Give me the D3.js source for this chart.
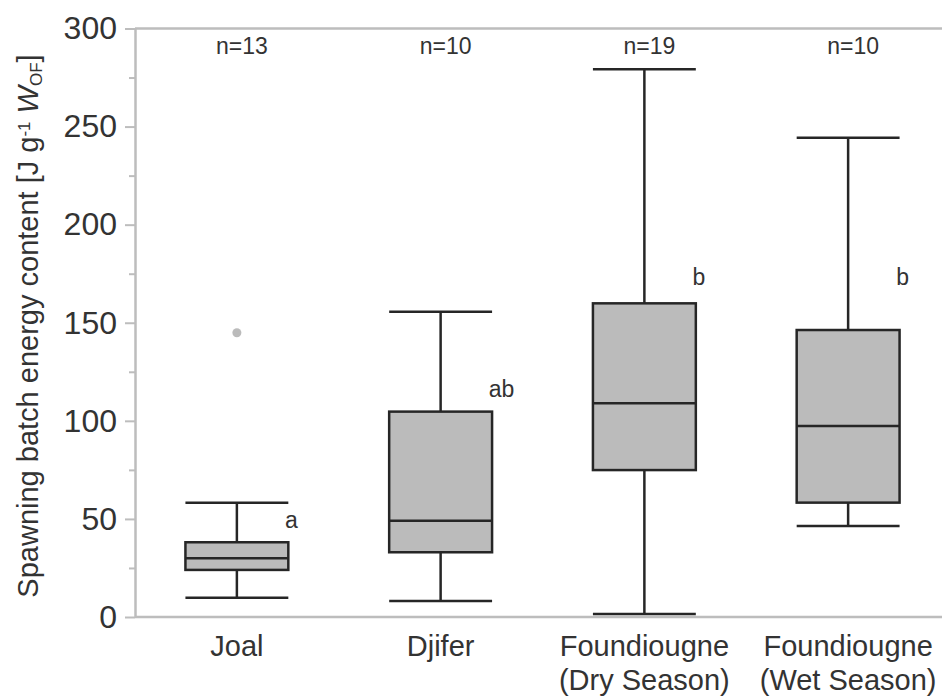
<!DOCTYPE html>
<html>
<head>
<meta charset="utf-8">
<script src="https://cdn.jsdelivr.net/npm/d3@7"></script>
<style>
    body { margin: 0; background: #fff; }
    text { font-family: "Liberation Sans", Arial, Helvetica, sans-serif; fill: #333; }
</style>
</head>
<body>
<div id="box_chart"></div>
<script>

let sites = ["Joal", "Djifer", "Foundiougne (Dry Season)", "Foundiougne (Wet Season)"];
let site_lines = [["Joal"], ["Djifer"], ["Foundiougne", "(Dry Season)"], ["Foundiougne", "(Wet Season)"]];
let n_counts = [13, 10, 19, 10];

// whisker low, q1, median, q3, whisker high
let whisker_lo = [9.8, 8.2, 1.5, 46.4];
let q1_vals = [24.0, 33.0, 74.9, 58.3];
let median_vals = [29.9, 49.1, 108.9, 97.4];
let q3_vals = [38.1, 104.7, 159.9, 146.3];
let whisker_hi = [58.3, 155.6, 279.2, 244.3];

let outliers = [{site: "Joal", value: 144.9}];

let group_letters = ["a", "ab", "b", "b"];
let letter_values = [45.4, 112.3, 169, 169];

let y_ticks = [0, 50, 100, 150, 200, 250, 300];
let y_minor_ticks = [25, 75, 125, 175, 225, 275];

let chart_width = 942;
let chart_height = 700;

let margin_top = 28.5;
let margin_left = 135;
let margin_bottom = 83;

let axis_color = "#bdbdbd";
let box_fill = "#bbbbbb";
let box_stroke = "#262626";

let svg = d3.select("#box_chart")
            .append("svg")
            .attr("width", chart_width)
            .attr("height", chart_height);

let xScale = d3.scaleBand()
                .domain(sites)
                .range([margin_left, 950])
                .padding(0);

let yScale = d3.scaleLinear()
                .domain([0, 300])
                .range([chart_height - margin_bottom, margin_top]);

let box_w = xScale.bandwidth() * 0.505;

let data = sites.map(function(s, i) {
    return {
        site: s,
        lines: site_lines[i],
        n: n_counts[i],
        lo: whisker_lo[i],
        q1: q1_vals[i],
        med: median_vals[i],
        q3: q3_vals[i],
        hi: whisker_hi[i],
        letter: group_letters[i],
        letter_val: letter_values[i]
    };
});

function cx(d) { return xScale(d.site) + xScale.bandwidth() / 2; }

// y axis with major + minor ticks
let y_axis = svg.append("g")
    .attr("class", "y axis")
    .attr("transform", "translate(" + margin_left + ",0)")
    .call(d3.axisLeft(yScale).tickValues(y_ticks).tickSize(10).tickPadding(8).tickSizeOuter(0));

svg.append("g")
    .attr("transform", "translate(" + margin_left + ",0)")
    .call(d3.axisLeft(yScale).tickValues(y_minor_ticks).tickSize(6).tickFormat("").tickSizeOuter(0))
    .select(".domain").remove();

svg.selectAll(".tick line").attr("stroke", axis_color).attr("stroke-width", 2);
y_axis.select(".domain").attr("stroke", axis_color).attr("stroke-width", 2.5);
y_axis.selectAll(".tick text")
    .style("font-size", "32px")
    .attr("fill", "#333");

// bottom + top frame lines
svg.append("line")
    .attr("x1", margin_left).attr("x2", chart_width)
    .attr("y1", yScale(0)).attr("y2", yScale(0))
    .attr("stroke", axis_color).attr("stroke-width", 2.5);
svg.append("line")
    .attr("x1", margin_left).attr("x2", chart_width)
    .attr("y1", yScale(300)).attr("y2", yScale(300))
    .attr("stroke", axis_color).attr("stroke-width", 2.5);

// y label
let y_label = svg.append("text")
    .attr("transform", "translate(38," + 326 + ") rotate(-90)")
    .attr("text-anchor", "middle")
    .style("font-size", "29px");
y_label.append("tspan").text("Spawning batch energy content [J g");
y_label.append("tspan").attr("baseline-shift", "45%").style("font-size", "17px").text("-1");
y_label.append("tspan").text(" ");
y_label.append("tspan").style("font-style", "italic").text("W");
y_label.append("tspan").attr("baseline-shift", "-22%").style("font-size", "17px").text("OF");
y_label.append("tspan").text("]");

let boxes = svg.selectAll(".box_g")
    .data(data)
    .enter()
    .append("g")
    .attr("class", "box_g");

// whisker stems
boxes.append("line")
    .attr("x1", cx).attr("x2", cx)
    .attr("y1", function(d) { return yScale(d.lo); })
    .attr("y2", function(d) { return yScale(d.hi); })
    .attr("stroke", box_stroke).attr("stroke-width", 2.5);

// caps
["lo", "hi"].forEach(function(k) {
    boxes.append("line")
        .attr("x1", function(d) { return cx(d) - box_w / 2; })
        .attr("x2", function(d) { return cx(d) + box_w / 2; })
        .attr("y1", function(d) { return yScale(d[k]); })
        .attr("y2", function(d) { return yScale(d[k]); })
        .attr("stroke", box_stroke).attr("stroke-width", 2.5);
});

boxes.append("rect")
    .attr("x", function(d) { return cx(d) - box_w / 2; })
    .attr("y", function(d) { return yScale(d.q3); })
    .attr("width", box_w)
    .attr("height", function(d) { return yScale(d.q1) - yScale(d.q3); })
    .attr("fill", box_fill)
    .attr("stroke", box_stroke)
    .attr("stroke-width", 2.5);

boxes.append("line")
    .attr("x1", function(d) { return cx(d) - box_w / 2; })
    .attr("x2", function(d) { return cx(d) + box_w / 2; })
    .attr("y1", function(d) { return yScale(d.med); })
    .attr("y2", function(d) { return yScale(d.med); })
    .attr("stroke", box_stroke).attr("stroke-width", 2.5);

// n labels
boxes.append("text")
    .attr("x", function(d) { return cx(d) + 5; })
    .attr("y", 53.5)
    .attr("text-anchor", "middle")
    .style("font-size", "23px")
    .text(function(d) { return "n=" + d.n; });

// significance letters
boxes.append("text")
    .attr("x", function(d) { return cx(d) + 48; })
    .attr("y", function(d) { return yScale(d.letter_val); })
    .style("font-size", "23px")
    .text(function(d) { return d.letter; });

// category labels
boxes.each(function(d) {
    let t = d3.select(this).append("text")
        .attr("text-anchor", "middle")
        .style("font-size", "29px");
    d.lines.forEach(function(line, i) {
        t.append("tspan")
            .attr("x", cx(d))
            .attr("y", 656 + i * 34)
            .text(line);
    });
});

svg.selectAll(".outlier")
    .data(outliers)
    .enter()
    .append("circle")
    .attr("class", "outlier")
    .attr("cx", function(d) { return xScale(d.site) + xScale.bandwidth() / 2; })
    .attr("cy", function(d) { return yScale(d.value); })
    .attr("r", 4.5)
    .attr("fill", box_fill);

</script>
</body>
</html>
